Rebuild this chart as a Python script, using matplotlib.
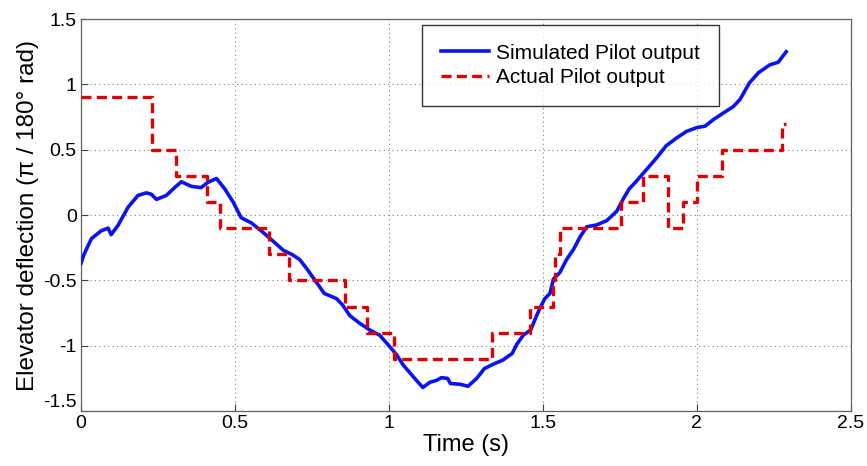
import numpy as np
import matplotlib
matplotlib.use("Agg")
import matplotlib.pyplot as plt

# simulated pilot output
t_sim = [0.0, 0.01, 0.034, 0.05, 0.066, 0.088, 0.098, 0.12, 0.153, 0.185, 0.212, 0.228,
         0.245, 0.277, 0.304, 0.326, 0.358, 0.39, 0.412, 0.44, 0.467, 0.494, 0.52, 0.553,
         0.585, 0.624, 0.657, 0.684, 0.71, 0.733, 0.76, 0.79, 0.83, 0.85, 0.873, 0.906,
         0.938, 0.97, 1.0, 1.025, 1.047, 1.08, 1.11, 1.133, 1.155, 1.17, 1.19, 1.2, 1.23,
         1.257, 1.285, 1.31, 1.34, 1.37, 1.4, 1.415, 1.436, 1.46, 1.485, 1.506, 1.523,
         1.534, 1.555, 1.577, 1.6, 1.62, 1.642, 1.674, 1.707, 1.74, 1.76, 1.78, 1.80,
         1.837, 1.87, 1.90, 1.934, 1.966, 2.0, 2.026, 2.053, 2.085, 2.118, 2.14, 2.17,
         2.2, 2.237, 2.264, 2.29]
y_sim = [-0.37, -0.3, -0.18, -0.15, -0.12, -0.1, -0.15, -0.08, 0.06, 0.15, 0.17, 0.16,
         0.12, 0.15, 0.21, 0.255, 0.22, 0.21, 0.25, 0.28, 0.2, 0.1, -0.02, -0.06,
         -0.12, -0.2, -0.27, -0.3, -0.34, -0.41, -0.5, -0.6, -0.64, -0.69, -0.77, -0.83,
         -0.88, -0.92, -1.0, -1.07, -1.15, -1.24, -1.32, -1.28, -1.265, -1.245, -1.25, -1.29, -1.295,
         -1.31, -1.25, -1.175, -1.14, -1.11, -1.06, -0.99, -0.92, -0.88, -0.74, -0.64, -0.6,
         -0.49, -0.44, -0.34, -0.26, -0.17, -0.09, -0.076, -0.043, 0.03, 0.12, 0.2, 0.25,
         0.35, 0.44, 0.53, 0.59, 0.64, 0.67, 0.68, 0.73, 0.78, 0.83, 0.885, 1.01,
         1.09, 1.15, 1.17, 1.25]

# actual pilot output (step signal)
t_act = [0.0, 0.23, 0.31, 0.41, 0.45, 0.61, 0.675, 0.857, 0.93, 1.016, 1.334, 1.458,
         1.533, 1.538, 1.555, 1.755, 1.825, 1.906, 1.955, 2.0, 2.08, 2.275, 2.29]
y_act = [0.9, 0.5, 0.3, 0.1, -0.1, -0.3, -0.5, -0.7, -0.9, -1.1, -0.9, -0.7,
         -0.5, -0.3, -0.1, 0.1, 0.3, -0.1, 0.1, 0.3, 0.5, 0.7, 0.7]

x_ticks = [0, 0.5, 1, 1.5, 2, 2.5]
x_labels = ['0', '0.5', '1', '1.5', '2', '2.5']
y_ticks = [-1.5, -1, -0.5, 0, 0.5, 1, 1.5]
y_labels = ['-1.5', '-1', '-0.5', '0', '0.5', '1', '1.5']

plt.rcParams['font.family'] = ['Liberation Sans', 'DejaVu Sans']

fig = plt.figure(figsize=(8.67, 4.66), dpi=100)
ax = fig.add_axes([0.0934, 0.118, 0.888, 0.841])

ax.plot(t_sim, y_sim, color='#0a14f0', lw=2.6, label='Simulated Pilot output', zorder=3)
ax.step(t_act, y_act, where='post', color='#dd0000', lw=2.4, ls=(0, (3, 1.6)),
        label='Actual Pilot output', zorder=4)

ax.set_xlim(0, 2.5)
ax.set_ylim(-1.5, 1.5)
ax.set_xticks(x_ticks)
ax.set_xticklabels(x_labels)
ax.set_yticks(y_ticks)
ax.set_yticklabels(y_labels)
ax.tick_params(direction='in', length=5, width=0.8, color='#404040', labelsize=14)
ax.tick_params(axis='x', pad=3)
ax.tick_params(axis='y', pad=3)
# bottom y label sits a little higher so it clears the x "0"
ax.get_yticklabels()[0].set_verticalalignment('bottom')

ax.grid(True, ls=(0, (1, 3)), color='#808080', lw=0.8)
for sp in ax.spines.values():
    sp.set_color('#606060')
    sp.set_linewidth(0.9)

ax.set_xlabel('Time (s)', fontsize=17, labelpad=1)
ax.set_ylabel('Elevator deflection (\u03c0 / 180\u00b0 rad)', fontsize=17.5, labelpad=3)

leg = ax.legend(loc='upper left', bbox_to_anchor=(0.443, 0.985), fontsize=15,
                frameon=True, fancybox=False, edgecolor='black', handlelength=2.3,
                borderpad=0.9, labelspacing=0.25, handletextpad=0.35, borderaxespad=0)
leg.get_frame().set_linewidth(1.0)

fig.savefig('out.png', dpi=100)
